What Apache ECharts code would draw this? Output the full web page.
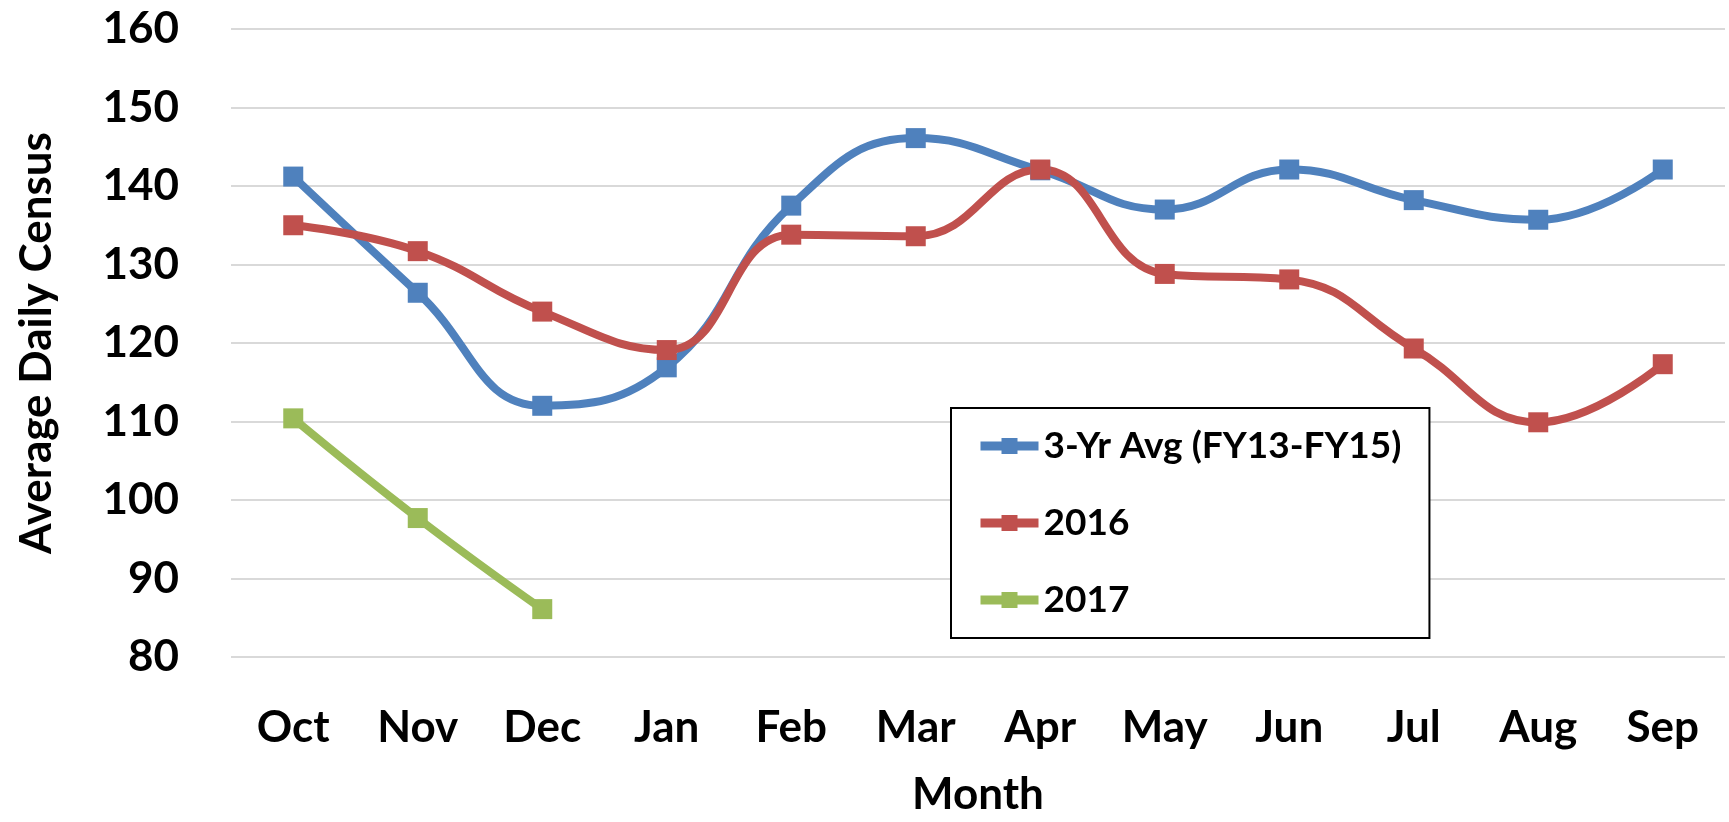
<!DOCTYPE html>
<html>
<head>
<meta charset="utf-8">
<title>Average Daily Census</title>
<script src="https://cdn.jsdelivr.net/npm/echarts@6/dist/echarts.min.js"></script>
<style>
  html, body { margin: 0; padding: 0; background: #fff; }
  #chart-content { width: 1729px; height: 822px; }
</style>
</head>
<body>
<div id="chart-content"></div>
<script>
// data
var months = ['Oct', 'Nov', 'Dec', 'Jan', 'Feb', 'Mar', 'Apr', 'May', 'Jun', 'Jul', 'Aug', 'Sep'];
var avg3yr = [141.2, 126.4, 112.0, 116.9, 137.5, 146.1, 142.0, 137.0, 142.1, 138.2, 135.7, 142.1];
var fy2016 = [135.0, 131.7, 124.0, 119.1, 133.8, 133.6, 142.1, 128.8, 128.1, 119.3, 109.9, 117.3];
var fy2017 = [110.4, 97.7, 86.1];
var yTicks = { min: 80, max: 160, step: 10 };

var view = {};
view.font = 'Lato, "Open Sans", sans-serif';

//series builder
view.makeLine = function (name, data, color) {
  return {
    name: name,
    type: 'line',
    data: data,
    smooth: 0.45,
    symbol: 'rect',
    symbolSize: 20,
    lineStyle: { width: 8, color: color },
    itemStyle: { color: color },
    emphasis: { disabled: true }
  };
};

view.loadChart = function () {
  var mychat = echarts.init(document.getElementById('chart-content'));
  var option = {
    animation: false,
    grid: {
      left: 231,
      right: 4,
      top: 29,
      bottom: 163
    },
    legend: {
      orient: 'vertical',
      left: 951,
      top: 408,
      padding: [18, 28, 18, 25],
      borderColor: '#000',
      borderWidth: 2,
      backgroundColor: '#fff',
      itemWidth: 58,
      itemHeight: 20,
      itemGap: 37,
      lineStyle: { width: 9 },
      textStyle: {
        fontFamily: view.font,
        fontWeight: 'bold',
        fontSize: 37,
        lineHeight: 40,
        color: '#000'
      },
      data: ['3-Yr Avg (FY13-FY15)', '2016', '2017']
    },
    xAxis: {
      type: 'category',
      data: months,
      boundaryGap: true,
      name: 'Month',
      nameLocation: 'middle',
      nameGap: 116,
      nameTextStyle: { fontFamily: view.font, fontWeight: 'bold', fontSize: 44, color: '#000' },
      axisLine: { show: false },
      axisTick: { show: false },
      axisLabel: { margin: 49, fontFamily: view.font, fontWeight: 'bold', fontSize: 44, color: '#000' }
    },
    yAxis: {
      type: 'value',
      min: yTicks.min,
      max: yTicks.max,
      interval: yTicks.step,
      name: 'Average Daily Census',
      nameLocation: 'middle',
      nameRotate: 90,
      nameGap: 172,
      nameTextStyle: { fontFamily: view.font, fontWeight: 'bold', fontSize: 44, color: '#000' },
      axisLine: { show: false },
      axisTick: { show: false },
      axisLabel: { margin: 52, fontFamily: view.font, fontWeight: 'bold', fontSize: 44, color: '#000' },
      splitLine: { lineStyle: { color: '#D9D9D9', width: 2 } }
    },
    series: [
      view.makeLine('3-Yr Avg (FY13-FY15)', avg3yr, '#4F81BD'),
      view.makeLine('2016', fy2016, '#C0504D'),
      view.makeLine('2017', fy2017, '#9BBB59')
    ]
  };
  mychat.setOption(option);
};

view.loadChart();
</script>
</body>
</html>
